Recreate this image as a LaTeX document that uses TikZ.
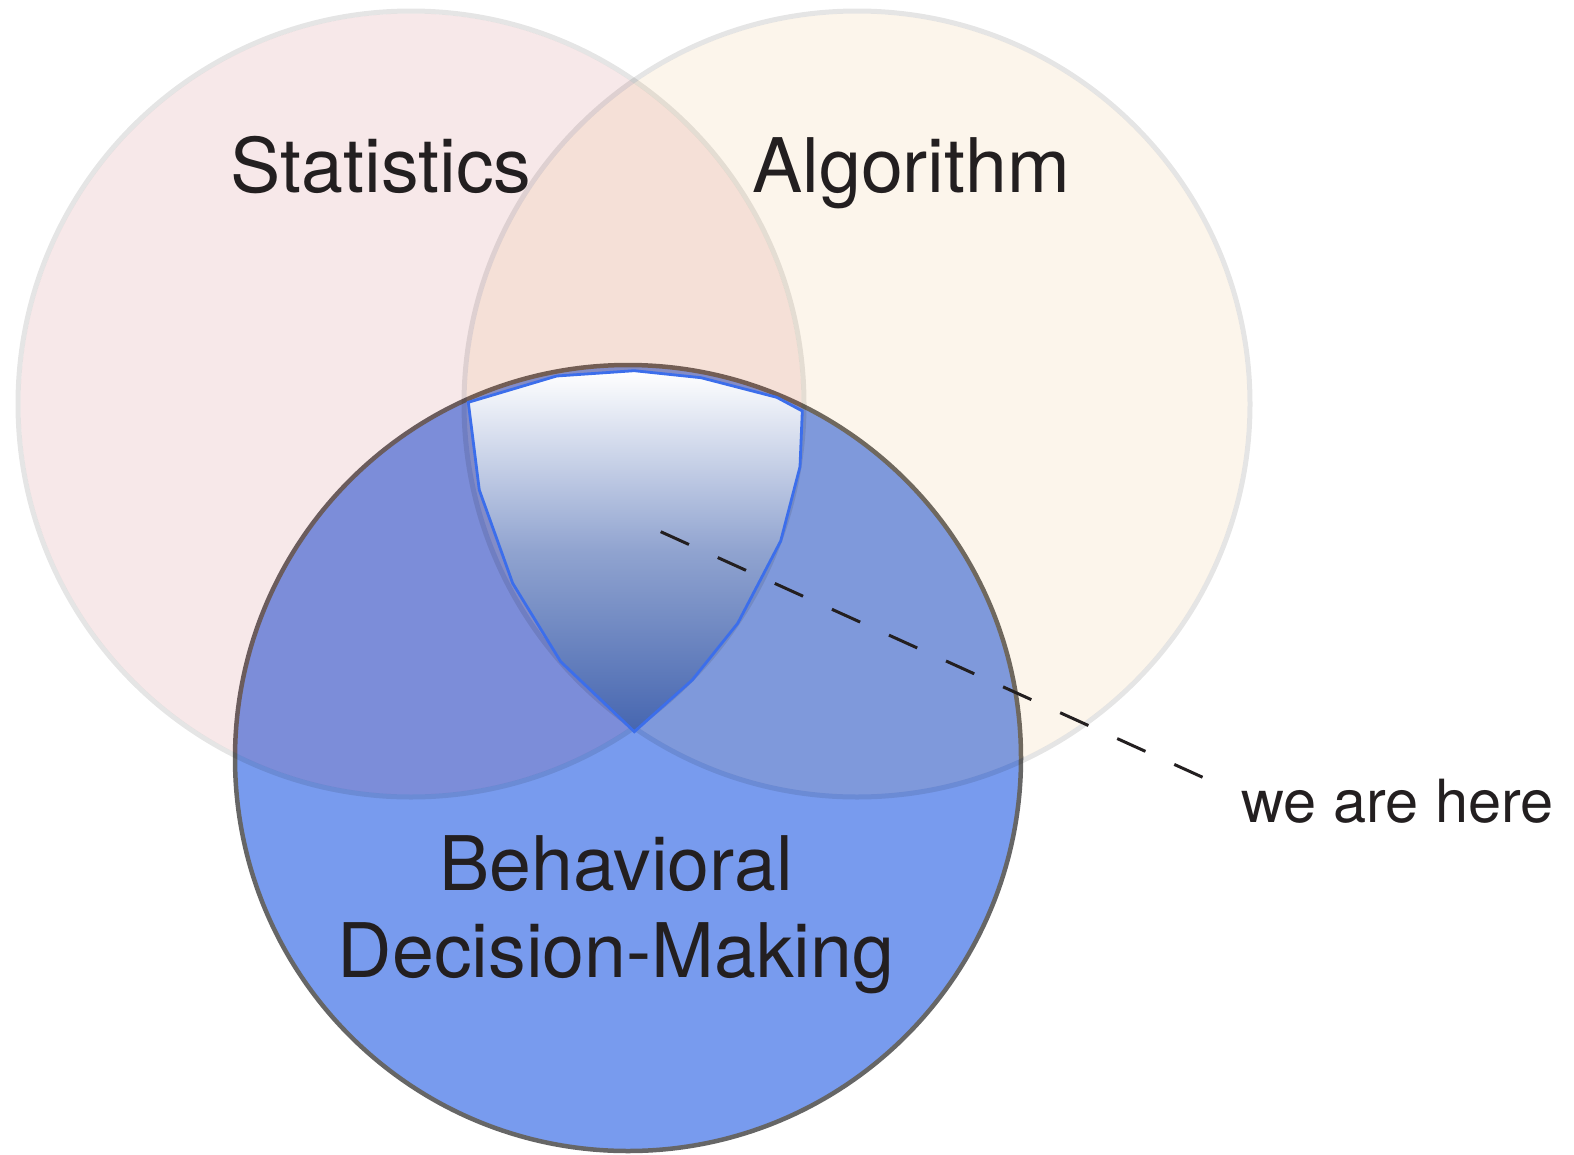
\documentclass[tikz,border=0pt]{standalone}
\usepackage{fontspec}
\setmainfont{TeX Gyre Heros}
\definecolor{statfill}{RGB}{166,0,11}
\definecolor{algofill}{RGB}{218,130,0}
\definecolor{bdmfill}{RGB}{120,155,238}
\definecolor{bdmline}{RGB}{102,102,102}
\definecolor{zoneline}{RGB}{60,110,235}
\definecolor{zonebot}{RGB}{70,102,176}
\definecolor{ink}{RGB}{35,31,32}
\tikzset{
  setring/.style={draw=black, draw opacity=0.1, line width=5pt},
  biglabel/.style={text=ink, font=\fontsize{75.3}{88}\selectfont, anchor=base, inner sep=0pt},
  smalllabel/.style={text=ink, font=\fontsize{59.5}{70}\selectfont, anchor=base west, inner sep=0pt},
  pointer/.style={draw=ink, line width=3pt, dash pattern=on 31pt off 31.65pt}
}
\begin{document}
\begin{tikzpicture}[x=1pt,y=-1pt]
\useasboundingbox (0,0) rectangle (1574,1154);
% Behavioral decision-making circle
\draw[fill=bdmfill, draw=bdmline, line width=4.5pt] (628,758) circle[radius=393];
% Statistics and Algorithm circles (translucent)
\fill[statfill, fill opacity=0.09] (411,404) circle[radius=390.5];
\draw[setring] (411,404) circle[radius=393];
\fill[algofill, fill opacity=0.08] (857,404) circle[radius=390.5];
\draw[setring] (857,404) circle[radius=393];
% shaded zone
\draw[draw=zoneline, line width=2.8pt, top color=white, bottom color=zonebot, middle color=zonebot!60!white]
  (468.3,402.3) -- (556.7,376) -- (634.3,370.7) -- (701,377.7) -- (776.7,397.3) -- (802.3,411)
  -- (800,466.7) -- (780.7,541) -- (737.7,623.3) -- (692.3,680) -- (634.3,731.7)
  -- (560.7,661.7) -- (512.7,583.3) -- (479.3,490) -- cycle;
% labels
\node[biglabel] (stat) at (381,192) {Statistics};
\node[biglabel] (algo) at (911,192) {Algorithm};
\node[biglabel] (bdm1) at (616,890) {Behavioral};
\node[biglabel] (bdm2) at (616,977) {Decision-Making};
\node[smalllabel] (here) at (1241,822) {we are here};
% pointer
\coordinate (ptstart) at (660.7,531.7);
\coordinate (ptend) at (1202.7,777.3);
\draw[pointer] (ptstart) -- (ptend);
\end{tikzpicture}
\end{document}
